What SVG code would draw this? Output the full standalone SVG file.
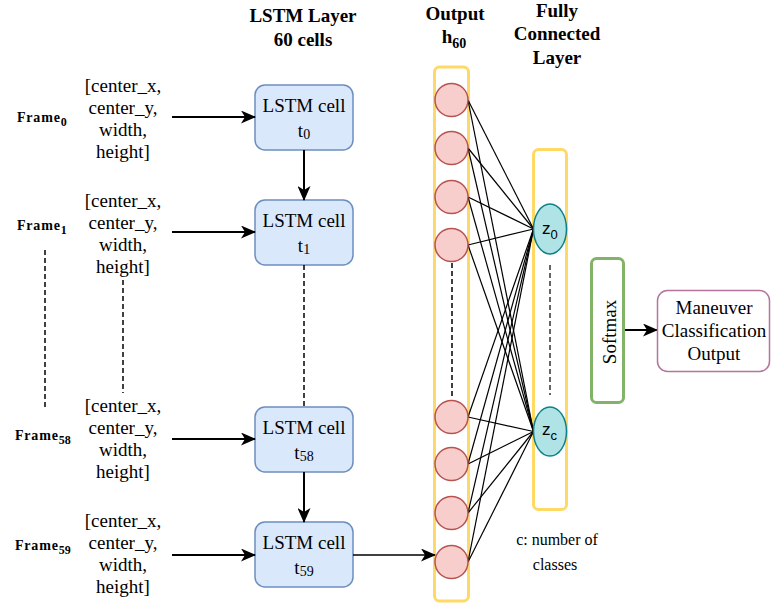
<svg xmlns="http://www.w3.org/2000/svg" width="771" height="605" viewBox="0 0 771 605">
<defs>
<style>
.serif{font-family:"Liberation Serif","Times New Roman",serif;fill:#000}
.t19{font-size:19px}
.bold{font-weight:bold}
.frame{font-family:"Liberation Serif","Times New Roman",serif;font-weight:bold;font-size:14px;letter-spacing:0.8px}
.mid{text-anchor:middle}
.cell{fill:#dae8fc;stroke:#6c8ebf;stroke-width:1.5}
.yel{fill:#fff;stroke:#ffd966;stroke-width:3}
.neuron{fill:#f8cecc;stroke:#b85450;stroke-width:1.5}
.zn{fill:#b0e3e6;stroke:#0e8088;stroke-width:1.5}
.arrow{stroke:#000;stroke-width:2;fill:none;marker-end:url(#ah)}
.dash{stroke:#000;stroke-width:1.5;stroke-dasharray:5 3;fill:none}
.fc{stroke:#000;stroke-width:1.2;fill:none}
.sans{font-family:"Liberation Sans",Arial,sans-serif;fill:#000}
</style>
<marker id="ah" markerUnits="userSpaceOnUse" markerWidth="15" markerHeight="13" viewBox="0 0 15 13" refX="14" refY="6.5" orient="auto">
<path d="M0,0 L15,6.5 L0,13 L4,6.5 z" fill="#000"/>
</marker>
</defs>
<rect width="771" height="605" fill="#fff"/>

<!-- titles -->
<g id="title-lstm" class="serif t19 bold mid">
<text x="303" y="22">LSTM Layer</text>
<text x="303" y="46">60 cells</text>
</g>
<g id="title-output" class="serif t19 bold mid">
<text x="455" y="20">Output</text>
<text x="454" y="43">h<tspan font-size="14" dy="5">60</tspan></text>
</g>
<g id="title-fc" class="serif t19 bold mid">
<text x="557" y="17">Fully</text>
<text x="557" y="40">Connected</text>
<text x="557" y="64">Layer</text>
</g>

<!-- frame labels -->
<g id="frame0"><text class="frame" x="17" y="122">Frame<tspan font-size="12" dy="4" letter-spacing="0">0</tspan></text></g>
<g id="frame1"><text class="frame" x="17" y="230">Frame<tspan font-size="12" dy="4" letter-spacing="0">1</tspan></text></g>
<g id="frame58"><text class="frame" x="15" y="440">Frame<tspan font-size="12" dy="4" letter-spacing="0">58</tspan></text></g>
<g id="frame59"><text class="frame" x="15" y="550">Frame<tspan font-size="12" dy="4" letter-spacing="0">59</tspan></text></g>

<!-- input feature blocks -->
<g id="input0" class="serif t19 mid">
<text x="123" y="92">[center_x,</text><text x="123" y="114">center_y,</text><text x="123" y="136">width,</text><text x="123" y="158">height]</text>
</g>
<g id="input1" class="serif t19 mid">
<text x="123" y="207">[center_x,</text><text x="123" y="229">center_y,</text><text x="123" y="251">width,</text><text x="123" y="273">height]</text>
</g>
<g id="input58" class="serif t19 mid">
<text x="123" y="412">[center_x,</text><text x="123" y="434">center_y,</text><text x="123" y="456">width,</text><text x="123" y="478">height]</text>
</g>
<g id="input59" class="serif t19 mid">
<text x="123" y="527">[center_x,</text><text x="123" y="549">center_y,</text><text x="123" y="571">width,</text><text x="123" y="593">height]</text>
</g>

<!-- LSTM cells -->
<g id="cell0">
<rect class="cell" x="255" y="85" width="98" height="65" rx="10"/>
<text class="serif t19 mid" x="304" y="112">LSTM cell</text>
<text class="serif t19 mid" x="304" y="137">t<tspan font-size="14" dy="2">0</tspan></text>
</g>
<g id="cell1">
<rect class="cell" x="255" y="200" width="98" height="65" rx="10"/>
<text class="serif t19 mid" x="304" y="227">LSTM cell</text>
<text class="serif t19 mid" x="304" y="252">t<tspan font-size="14" dy="2">1</tspan></text>
</g>
<g id="cell58">
<rect class="cell" x="255" y="407" width="98" height="65" rx="10"/>
<text class="serif t19 mid" x="304" y="434">LSTM cell</text>
<text class="serif t19 mid" x="304" y="459">t<tspan font-size="14" dy="2">58</tspan></text>
</g>
<g id="cell59">
<rect class="cell" x="255" y="522" width="98" height="65" rx="10"/>
<text class="serif t19 mid" x="304" y="549">LSTM cell</text>
<text class="serif t19 mid" x="304" y="574">t<tspan font-size="14" dy="2">59</tspan></text>
</g>

<!-- output column -->
<g id="output-layer">
<rect class="yel" x="434.5" y="67" width="34" height="534" rx="5"/>
</g>
<g id="fc-layer">
<rect class="yel" x="533.5" y="149.5" width="33" height="360" rx="5"/>
</g>

<!-- connectors -->
<g id="connectors">
<line class="arrow" x1="172" y1="117" x2="255" y2="117"/>
<line class="arrow" x1="172" y1="232" x2="255" y2="232"/>
<line class="arrow" x1="172" y1="439" x2="255" y2="439"/>
<line class="arrow" x1="172" y1="555" x2="255" y2="555"/>
<line class="arrow" x1="304" y1="150" x2="304" y2="200"/>
<line class="arrow" x1="304" y1="472" x2="304" y2="522"/>
<line class="arrow" x1="353" y1="555" x2="435" y2="555" style="stroke-width:1.5"/>
<line class="arrow" x1="625" y1="330" x2="657" y2="330"/>
<line class="dash" x1="45" y1="250" x2="45" y2="410"/>
<line class="dash" x1="123" y1="280" x2="123" y2="393"/>
<line class="dash" x1="304" y1="265" x2="304" y2="407"/>
<line class="dash" x1="452" y1="263" x2="452" y2="397"/>
<line class="dash" x1="550" y1="265" x2="550" y2="395" style="stroke-width:1.2"/>
<g id="fc-edges">
<line class="fc" x1="468" y1="100" x2="533.5" y2="229"/>
<line class="fc" x1="468" y1="148" x2="533.5" y2="229"/>
<line class="fc" x1="468" y1="197" x2="533.5" y2="229"/>
<line class="fc" x1="468" y1="245" x2="533.5" y2="229"/>
<line class="fc" x1="468" y1="417" x2="533.5" y2="229"/>
<line class="fc" x1="468" y1="464" x2="533.5" y2="229"/>
<line class="fc" x1="468" y1="513" x2="533.5" y2="229"/>
<line class="fc" x1="468" y1="562" x2="533.5" y2="229"/>
<line class="fc" x1="468" y1="100" x2="533.5" y2="431.5"/>
<line class="fc" x1="468" y1="148" x2="533.5" y2="431.5"/>
<line class="fc" x1="468" y1="197" x2="533.5" y2="431.5"/>
<line class="fc" x1="468" y1="245" x2="533.5" y2="431.5"/>
<line class="fc" x1="468" y1="417" x2="533.5" y2="431.5"/>
<line class="fc" x1="468" y1="464" x2="533.5" y2="431.5"/>
<line class="fc" x1="468" y1="513" x2="533.5" y2="431.5"/>
<line class="fc" x1="468" y1="562" x2="533.5" y2="431.5"/>
</g>
</g>

<!-- neurons -->
<g id="h1"><circle class="neuron" cx="451.5" cy="100" r="16.5"/></g>
<g id="h2"><circle class="neuron" cx="451.5" cy="148" r="16.5"/></g>
<g id="h3"><circle class="neuron" cx="451.5" cy="197" r="16.5"/></g>
<g id="h4"><circle class="neuron" cx="451.5" cy="245" r="16.5"/></g>
<g id="h57"><circle class="neuron" cx="451.5" cy="417" r="16.5"/></g>
<g id="h58"><circle class="neuron" cx="451.5" cy="464" r="16.5"/></g>
<g id="h59"><circle class="neuron" cx="451.5" cy="513" r="16.5"/></g>
<g id="h60"><circle class="neuron" cx="451.5" cy="562" r="16.5"/></g>

<g id="z0">
<ellipse class="zn" cx="550" cy="229" rx="16.5" ry="25"/>
<text class="sans" x="542" y="234" font-size="17">z<tspan font-size="13" dy="5">0</tspan></text>
</g>
<g id="zc">
<ellipse class="zn" cx="550" cy="431.5" rx="16.5" ry="24.5"/>
<text class="sans" x="542" y="435" font-size="17">z<tspan font-size="13" dy="5">c</tspan></text>
</g>

<g id="softmax">
<rect x="591.5" y="258.5" width="32" height="144" rx="5" fill="#fff" stroke="#82b366" stroke-width="3"/>
<text class="serif t19 mid" transform="translate(616,332) rotate(-90)" x="0" y="0">Softmax</text>
</g>

<g id="result">
<rect x="657.5" y="290.5" width="112" height="81" rx="10" fill="#fff" stroke="#b5739d" stroke-width="1.5"/>
<text class="serif t19 mid" x="714" y="314">Maneuver</text>
<text class="serif t19 mid" x="714" y="337">Classification</text>
<text class="serif t19 mid" x="714" y="360">Output</text>
</g>

<g id="note" class="serif mid" font-size="16">
<text x="557" y="545">c: number of</text>
<text x="555" y="570">classes</text>
</g>
</svg>
